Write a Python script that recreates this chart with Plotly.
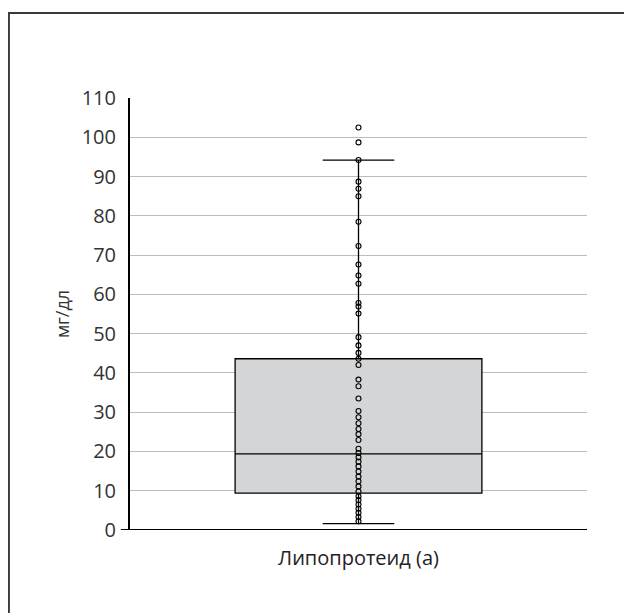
import plotly.graph_objects as go

category = ["Липопротеид (а)"]
y_title = "мг/дл"
tick_vals = [0, 10, 20, 30, 40, 50, 60, 70, 80, 90, 100, 110]

# box statistics
q1 = [9.4]
median = [19.4]
q3 = [43.6]
lower_fence = [1.6]
upper_fence = [94.2]

# individual observations (mg/dl)
values = [102.5, 98.7, 94.2, 88.7, 86.9, 85.0, 78.5, 72.3, 67.6, 64.8, 62.7,
          57.8, 56.9, 55.1, 49.1, 47.0, 45.1, 43.6, 42.0, 38.3, 36.6, 33.5,
          30.3, 28.7, 27.2, 25.7, 24.4, 22.9, 20.7, 19.6, 18.5, 17.4, 16.2,
          14.9, 13.6, 12.4, 11.1, 9.8, 8.6, 7.6, 6.5, 5.4, 4.4, 3.3, 2.2]

fig = go.Figure()
fig.add_trace(go.Box(
    x=category, q1=q1, median=median, q3=q3,
    lowerfence=lower_fence, upperfence=upper_fence,
    fillcolor="#d4d5d7", line=dict(color="black", width=1.3),
    width=0.54, whiskerwidth=0.29, boxpoints=False, hoverinfo="skip",
    showlegend=False,
))
fig.add_trace(go.Scatter(
    x=category * len(values), y=values, mode="markers",
    marker=dict(symbol="circle-open", size=5, color="black",
                line=dict(width=1.1, color="black")),
    showlegend=False,
))

# outer frame (cropped at right / bottom)
fig.add_shape(type="rect", xref="paper", yref="paper",
              x0=-0.265, x1=1.3, y0=-0.4, y1=1.197,
              line=dict(color="#3a3a3a", width=2), layer="above")
# x axis base line extending slightly left of the y axis
fig.add_shape(type="line", xref="paper", yref="y",
              x0=-0.02, x1=1.0, y0=0, y1=0,
              line=dict(color="black", width=2), layer="above")

fig.update_layout(
    width=632, height=613,
    margin=dict(l=122, r=53, t=90, b=91),
    paper_bgcolor="white", plot_bgcolor="white",
    font=dict(family="Open Sans, Noto Sans, sans-serif", color="#333"),
    xaxis=dict(showgrid=False, showline=False, zeroline=False,
               ticks="", tickfont=dict(size=20, color="#222"),
               ticklabelstandoff=14,
               range=[-0.5, 0.5]),
    yaxis=dict(range=[0, 110], tickvals=tick_vals, showgrid=True,
               gridcolor="#bdbdbd", gridwidth=1, zeroline=False,
               showline=True, linecolor="black", linewidth=2,
               ticks="", ticklabelstandoff=8,
               tickfont=dict(size=20, color="#333"),
               title=dict(text=y_title, font=dict(size=18, color="#333"),
                          standoff=7)),
)

fig.write_html("out.html")
